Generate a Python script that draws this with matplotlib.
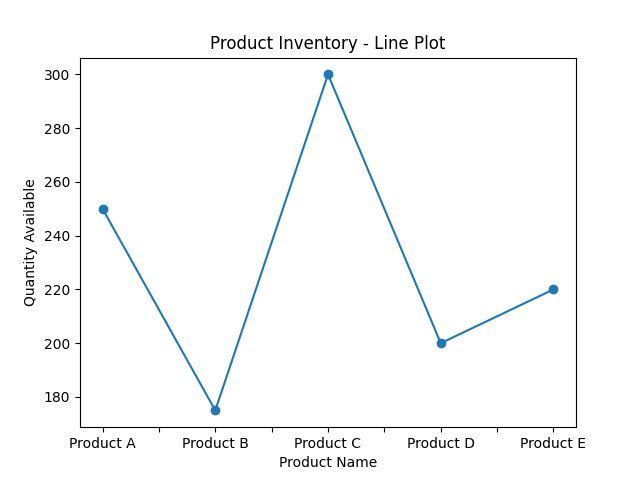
import matplotlib
matplotlib.use("Agg")
import matplotlib.pyplot as plt

products = ["Product A", "Product B", "Product C", "Product D", "Product E"]
quantities = [250, 175, 300, 200, 220]

fig, ax = plt.subplots(figsize=(6.4, 4.8), dpi=100)
x = list(range(len(products)))
ax.plot(x, quantities, marker="o")
ticks = [i * 0.5 for i in range(2 * len(products) - 1)]
labels = [products[int(t)] if t == int(t) else "" for t in ticks]
ax.set_xticks(ticks)
ax.set_xticklabels(labels)
ax.set_title("Product Inventory - Line Plot")
ax.set_xlabel("Product Name")
ax.set_ylabel("Quantity Available")
fig.savefig("out.png")
